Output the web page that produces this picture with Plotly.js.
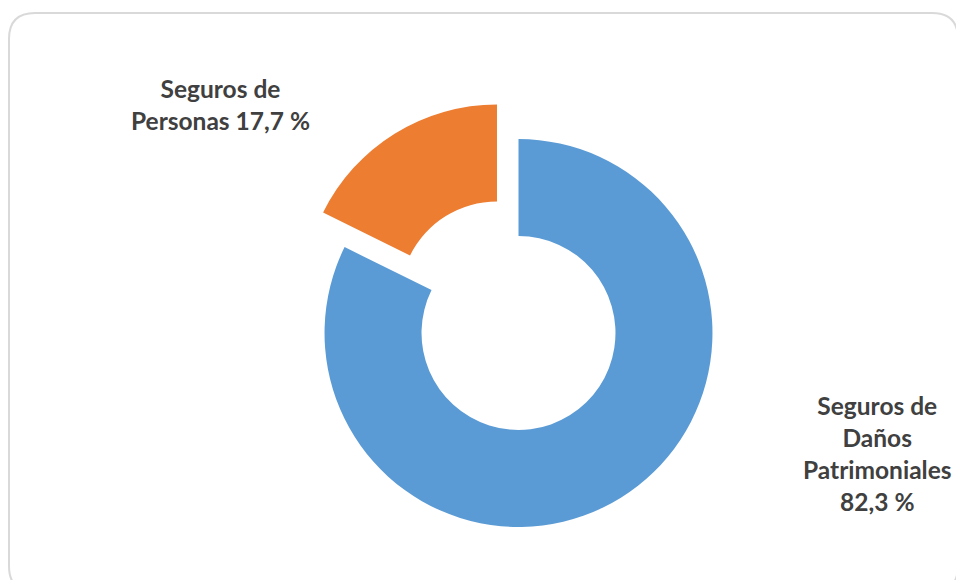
<!DOCTYPE html>
<html>
<head>
<meta charset="utf-8">
<script src="https://cdn.plot.ly/plotly-3.0.1.min.js"></script>
<style>html,body{margin:0;padding:0;background:#fff;}#chart{width:956px;height:580px;}</style>
</head>
<body>
<div id="chart"></div>
<script>
// Data
const categories = ["Seguros de Daños Patrimoniales", "Seguros de Personas"];
const shares = [82.3, 17.7];
const labelTexts = ["Seguros de<br>Daños<br>Patrimoniales<br>82,3 %", "Seguros de<br>Personas 17,7 %"];

const W = 956, H = 580;
const px = x => x / W;
const py = y => 1 - y / H;

// rounded border path in paper coords
function roundedRect(x0, y0, x1, y1, r) {
  return `M ${px(x0 + r)} ${py(y0)} L ${px(x1 - r)} ${py(y0)} Q ${px(x1)} ${py(y0)} ${px(x1)} ${py(y0 + r)} ` +
         `L ${px(x1)} ${py(y1 - r)} Q ${px(x1)} ${py(y1)} ${px(x1 - r)} ${py(y1)} ` +
         `L ${px(x0 + r)} ${py(y1)} Q ${px(x0)} ${py(y1)} ${px(x0)} ${py(y1 - r)} ` +
         `L ${px(x0)} ${py(y0 + r)} Q ${px(x0)} ${py(y0)} ${px(x0 + r)} ${py(y0)} Z`;
}

const trace = {
  type: 'pie',
  labels: categories,
  values: shares,
  hole: 0.5,
  sort: false,
  direction: 'clockwise',
  rotation: 0,
  pull: [0, 0.21],
  textinfo: 'none',
  hoverinfo: 'none',
  marker: { colors: ['#5B9BD5', '#ED7D31'], line: { width: 0 } },
  domain: { x: [283.8 / W, 753.2 / W], y: [1 - 567.7 / H, 1 - 98.3 / H] },
  showlegend: false
};

const labelFont = { family: 'Lato, "Open Sans", sans-serif', size: 24.5, color: '#404040', weight: 700 };

const layout = {
  width: W, height: H,
  margin: { l: 0, r: 0, t: 0, b: 0 },
  paper_bgcolor: '#ffffff',
  showlegend: false,
  shapes: [{
    type: 'path', xref: 'paper', yref: 'paper',
    path: roundedRect(9, 13, 958, 592, 26),
    line: { color: '#d9d9d9', width: 2 }, fillcolor: 'rgba(0,0,0,0)', layer: 'below'
  }],
  annotations: [
    { xref: 'paper', yref: 'paper', x: px(877), y: py(453), xanchor: 'center', yanchor: 'middle',
      text: labelTexts[0], showarrow: false, font: labelFont, align: 'center' },
    { xref: 'paper', yref: 'paper', x: px(220), y: py(105), xanchor: 'center', yanchor: 'middle',
      text: labelTexts[1], showarrow: false, font: labelFont, align: 'center' }
  ]
};

Plotly.newPlot('chart', [trace], layout, { displayModeBar: false, staticPlot: true });
</script>
</body>
</html>
